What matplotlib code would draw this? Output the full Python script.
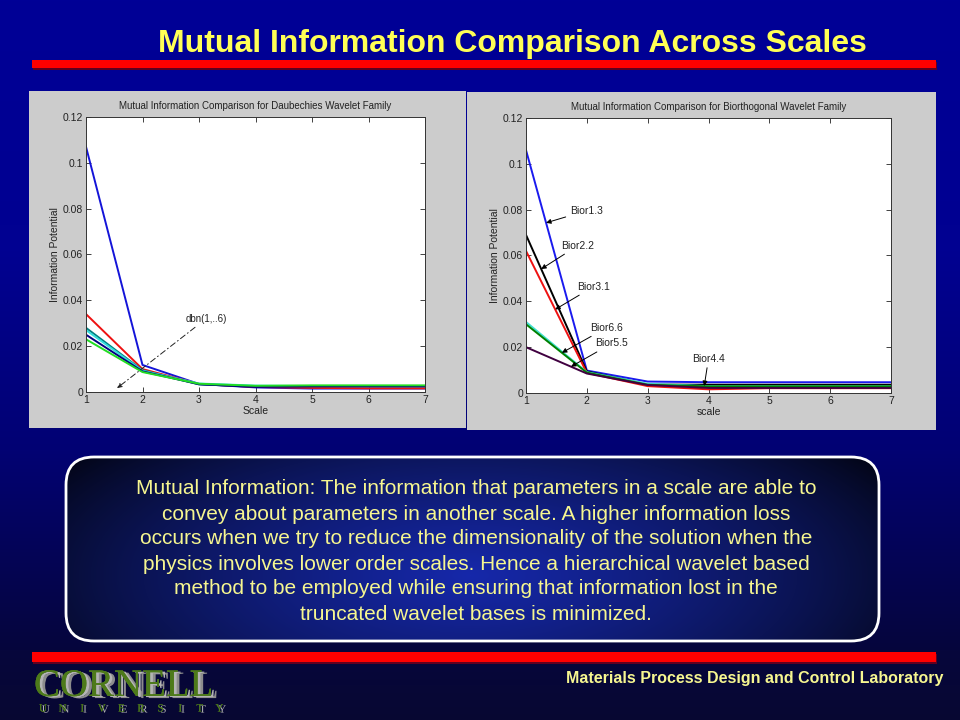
"""Slide: mutual information comparison across wavelet scales."""

import numpy as np
import matplotlib.pyplot as plt
import matplotlib.patheffects as pe
from matplotlib.patches import Rectangle, FancyBboxPatch

plt.rcParams["font.family"] = ["Liberation Sans", "DejaVu Sans"]

SCALES = [1, 2, 3, 4, 5, 6, 7]
Y_TICKS = [0, 0.02, 0.04, 0.06, 0.08, 0.1, 0.12]
Y_TICK_LABELS = ["0", "0.02", "0.04", "0.06", "0.08", "0.1", "0.12"]

# Daubechies family, db1..db6
DB_NAMES = ["db1", "db2", "db3", "db4", "db5", "db6"]
DB_COLORS = ["#1414d8", "#ee1111", "#008080", "#33dddd", "#000080", "#22dd22"]
DB_VALUES = [
    [0.107, 0.0118, 0.0035, 0.0020, 0.0015, 0.0015, 0.0015],
    [0.034, 0.0100, 0.0035, 0.0022, 0.0018, 0.0016, 0.0016],
    [0.028, 0.0095, 0.0033, 0.0025, 0.0025, 0.0025, 0.0025],
    [0.027, 0.0093, 0.0037, 0.0028, 0.0026, 0.0026, 0.0026],
    [0.025, 0.0090, 0.0034, 0.0022, 0.0025, 0.0025, 0.0025],
    [0.023, 0.0087, 0.0036, 0.0027, 0.0029, 0.0029, 0.0029],
]

# Biorthogonal family
BIOR_NAMES = ["Bior1.3", "Bior2.2", "Bior3.1", "Bior4.4", "Bior6.6", "Bior5.5"]
BIOR_COLORS = ["#1a1aee", "#000000", "#ee1111", "#40e0d0", "#008000", "#400040"]
BIOR_VALUES = [
    [0.106, 0.0098, 0.0050, 0.0047, 0.0047, 0.0047, 0.0047],
    [0.069, 0.0094, 0.0037, 0.0036, 0.0036, 0.0036, 0.0036],
    [0.062, 0.0088, 0.0030, 0.0016, 0.0021, 0.0021, 0.0021],
    [0.031, 0.0091, 0.0040, 0.0030, 0.0030, 0.0030, 0.0030],
    [0.030, 0.0089, 0.0036, 0.0029, 0.0029, 0.0029, 0.0029],
    [0.020, 0.0085, 0.0035, 0.0022, 0.0022, 0.0022, 0.0022],
]

# label -> (scale the arrow points at, text x, text y, text alignment)
BIOR_NOTES = {
    "Bior1.3": (1.33, 1.72, 0.0795, "left"),
    "Bior2.2": (1.25, 1.58, 0.0643, "left"),
    "Bior3.1": (1.48, 1.84, 0.0464, "left"),
    "Bior6.6": (1.59, 2.05, 0.0284, "left"),
    "Bior5.5": (1.74, 2.14, 0.0216, "left"),
    "Bior4.4": (3.93, 4.00, 0.0150, "center"),
}

TITLE = "Mutual Information Comparison Across Scales"
BODY = [
    "Mutual Information: The information that parameters in a scale are able to",
    "convey about parameters in another scale. A higher information loss",
    "occurs when we try to reduce the dimensionality of the solution when the",
    "physics involves lower order scales. Hence a hierarchical wavelet based",
    "method to be employed while ensuring that information lost in the",
    "truncated wavelet bases is minimized.",
]
FOOTER = "Materials Process Design and Control Laboratory"

TICK_COLOR = "#222222"
YELLOW = "#ffff55"
CREAM = "#f6f690"
LOGO_GREEN = "#4d7a1a"


def style_axes(ax, title, xlabel):
    """MATLAB-like look: ticks inside on all four sides."""
    ax.set_facecolor("white")
    ax.set_xlim(1, 7)
    ax.set_ylim(0, 0.12)
    ax.set_xticks(SCALES)
    ax.set_yticks(Y_TICKS)
    ax.set_yticklabels(Y_TICK_LABELS)
    ax.tick_params(direction="in", top=True, right=True, length=3.5,
                   width=0.6, labelsize=7.5, colors=TICK_COLOR, pad=2)
    for sp in ax.spines.values():
        sp.set_linewidth(0.7)
        sp.set_color("#333333")
    ax.set_title(title, fontsize=7, color=TICK_COLOR, pad=6)
    ax.set_xlabel(xlabel, fontsize=7.5, color=TICK_COLOR, labelpad=1)
    ax.set_ylabel("Information Potential", fontsize=7.5, color=TICK_COLOR,
                  labelpad=2)


def draw_background(bg):
    """Slide background, panels, bars and the text box (pixel coords)."""
    ys = np.arange(720)
    blue = np.interp(ys, [0, 250, 450, 650, 720], [150, 145, 115, 60, 50])
    rg = np.interp(ys, [0, 450, 650, 720], [0, 2, 6, 8])
    grad = np.stack([rg, rg, blue], axis=-1)[:, None, :] / 255.0
    bg.imshow(grad, extent=(0, 960, 720, 0), aspect="auto", zorder=0)

    bg.add_patch(Rectangle((29, 91), 437, 337, fc="#cccccc", ec="none", zorder=1))
    bg.add_patch(Rectangle((467, 92), 469, 338, fc="#cccccc", ec="none", zorder=1))

    for y, h in ((60, 8), (652, 10)):
        bg.add_patch(Rectangle((33, y + 2), 904, h, fc="#600020", ec="none", zorder=1))
        bg.add_patch(Rectangle((32, y), 904, h, fc="#ff0000", ec="none", zorder=2))

    box = FancyBboxPatch((66, 457), 813, 184,
                         boxstyle="round,pad=0,rounding_size=28",
                         fc="none", ec="white", lw=2, zorder=4)
    bg.add_patch(box)
    yy, xx = np.mgrid[457:641, 66:879]
    d = np.sqrt(((xx - 470) / 520.0) ** 2 + ((yy - 575) / 210.0) ** 2)
    t = np.clip(1 - d, 0, 1) ** 0.7
    inner = np.stack([t * 22, t * 40, t * 170], axis=-1) / 255.0
    im = bg.imshow(inner, extent=(66, 879, 641, 457), aspect="auto", zorder=3)
    im.set_clip_path(box)

    bg.text(512, 44, TITLE, ha="center", va="center", fontsize=23,
            weight="bold", color=YELLOW, zorder=5)
    for i, line in enumerate(BODY):
        bg.text(476, 489 + 25 * i, line, ha="center", va="center",
                fontsize=15, color=CREAM, zorder=5)
    bg.text(943, 679, FOOTER, ha="right", va="center", fontsize=11.5,
            weight="bold", color=CREAM, zorder=5)

    # Cornell logo, grey layered shadow via path effects
    serif = ["Liberation Serif", "DejaVu Serif"]
    shadow = [pe.withSimplePatchShadow(offset=(4, -1.5), shadow_rgbFace="#8c8c8c",
                                       alpha=1),
              pe.withSimplePatchShadow(offset=(2, -0.8), shadow_rgbFace="#b4b4b4",
                                       alpha=1),
              pe.Normal()]
    bg.text(34, 696, "CORNELL", family=serif, fontsize=28, color=LOGO_GREEN,
            ha="left", va="baseline", zorder=6, path_effects=shadow)
    for i, ch in enumerate("UNIVERSITY"):
        bg.text(43 + i * 19.6, 709, ch, family=serif, fontsize=8,
                color=LOGO_GREEN, ha="center", va="center", zorder=6,
                path_effects=shadow[1:])


def main():
    fig = plt.figure(figsize=(9.6, 7.2), dpi=100)
    bg = fig.add_axes([0, 0, 1, 1])
    bg.set_xlim(0, 960)
    bg.set_ylim(720, 0)
    bg.axis("off")
    draw_background(bg)

    arrow = dict(arrowstyle="-|>", color="k", lw=0.7, mutation_scale=7,
                 shrinkA=1, shrinkB=0)

    ax1 = fig.add_axes([86 / 960, 1 - 392 / 720, 339 / 960, 275 / 720])
    for name, col, vals in zip(DB_NAMES, DB_COLORS, DB_VALUES):
        ax1.plot(SCALES, vals, color=col, lw=1.4, label=name)
    style_axes(ax1, "Mutual Information Comparison for Daubechies Wavelet Family",
               "Scale")
    dash_arrow = dict(arrow, linestyle=(0, (6, 3, 1, 3)), color="#222222")
    ax1.annotate("dbn(1,..6)", xy=(1.55, 0.0017), xytext=(2.76, 0.032),
                 fontsize=7, color=TICK_COLOR, ha="left", va="center",
                 arrowprops=dash_arrow)

    ax2 = fig.add_axes([526 / 960, 1 - 393 / 720, 365 / 960, 275 / 720])
    for name, col, vals in zip(BIOR_NAMES, BIOR_COLORS, BIOR_VALUES):
        ax2.plot(SCALES, vals, color=col, lw=1.4, label=name)
    style_axes(ax2, "Mutual Information Comparison for Biorthogonal Wavelet Family",
               "scale")
    for name, (sx, tx, ty, ha) in BIOR_NOTES.items():
        vals = BIOR_VALUES[BIOR_NAMES.index(name)]
        ax2.annotate(name, xy=(sx, np.interp(sx, SCALES, vals)), xytext=(tx, ty),
                     fontsize=7.5, color=TICK_COLOR, ha=ha, va="center",
                     arrowprops=arrow)

    fig.savefig("out.png", dpi=100)


if __name__ == "__main__":
    main()
